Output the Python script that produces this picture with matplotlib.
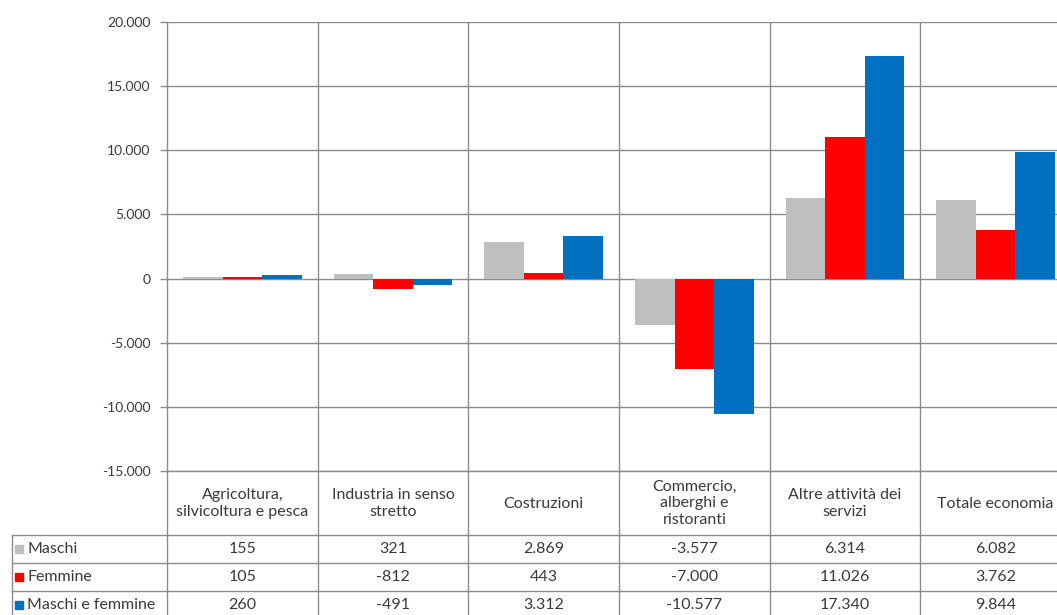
import matplotlib
matplotlib.use('Agg')
import matplotlib.pyplot as plt
import matplotlib.transforms as mtransforms
from matplotlib.ticker import FuncFormatter
import numpy as np

categories = ['Agricoltura,\nsilvicoltura e pesca', 'Industria in senso\nstretto', 'Costruzioni',
              'Commercio,\nalberghi e\nristoranti', 'Altre attività dei\nservizi', 'Totale economia']
series_names = ['Maschi', 'Femmine', 'Maschi e femmine']
maschi = [155, 321, 2869, -3577, 6314, 6082]
femmine = [105, -812, 443, -7000, 11026, 3762]
totale = [260, -491, 3312, -10577, 17340, 9844]
colors = ['#BFBFBF', '#FF0000', '#0070C0']
y_ticks = [-15000, -10000, -5000, 0, 5000, 10000, 15000, 20000]

TEXT = '#3a3a3a'
LINE = '#8c8c8c'
plt.rcParams['font.family'] = ['Lato', 'DejaVu Sans']


def it_num(v):
    # Italian thousands separator
    return '{:,}'.format(int(v)).replace(',', '.')


W, H = 1057, 615
fig = plt.figure(figsize=(W / 100, H / 100), dpi=100)
ax_left, ax_right, ax_top, ax_bottom = 167, 1071, 21.7, 471.3
ax = fig.add_axes([ax_left / W, 1 - ax_bottom / H, (ax_right - ax_left) / W, (ax_bottom - ax_top) / H])


def fy(px):
    # pixel row -> axes fraction
    return (ax_bottom - px) / (ax_bottom - ax_top)


x = np.arange(len(categories))
bw = 0.263
for i, (name, vals) in enumerate(zip(series_names, [maschi, femmine, totale])):
    ax.bar(x + (i - 1) * bw, vals, width=bw, color=colors[i], zorder=3)

ax.set_xlim(-0.5, len(categories) - 0.5)
ax.set_ylim(-15000, 20000)
ax.set_yticks(y_ticks)
ax.yaxis.set_major_formatter(FuncFormatter(lambda v, p: it_num(v)))
ax.set_xticks([])
ax.tick_params(axis='y', length=5, width=1, color=LINE, pad=7, labelsize=10, labelcolor=TEXT)
ax.grid(axis='y', color=LINE, linewidth=1, zorder=1)
for s in ['top', 'right']:
    ax.spines[s].set_visible(False)
for s in ['left', 'bottom']:
    ax.spines[s].set_color(LINE)
    ax.spines[s].set_linewidth(1)

trans = mtransforms.blended_transform_factory(ax.transData, ax.transAxes)

row_tops = [535, 563, 591]
fig_bottom = fy(H + 5)
leg_left = -0.5 + (12 - ax_left) / 150.7

# vertical category lines through the plot and the table
for b in np.arange(0.5, len(categories), 1):
    ax.plot([b, b], [1, fig_bottom], color=LINE, lw=1, transform=trans, clip_on=False, zorder=2)
ax.plot([-0.5, -0.5], [0, fig_bottom], color=LINE, lw=1, transform=trans, clip_on=False, zorder=2)
ax.plot([leg_left, leg_left], [fy(row_tops[0]), fig_bottom], color=LINE, lw=1, transform=trans, clip_on=False)
for r in row_tops:
    ax.plot([leg_left, len(categories) + 0.5], [fy(r), fy(r)], color=LINE, lw=1, transform=trans, clip_on=False)

# category labels
for i, c in enumerate(categories):
    ax.text(i, fy(503.5), c, ha='center', va='center', fontsize=11.5, color=TEXT,
            linespacing=1.2, transform=trans)

# data table
for j, (name, vals) in enumerate(zip(series_names, [maschi, femmine, totale])):
    yc = fy(row_tops[j] + 14)
    ax.plot([leg_left + 0.045], [yc], marker='s', ms=5.5, color=colors[j], transform=trans, clip_on=False)
    ax.text(leg_left + 0.1, yc, name, ha='left', va='center', fontsize=11.5, color=TEXT, transform=trans)
    for i, v in enumerate(vals):
        ax.text(i, yc, it_num(v), ha='center', va='center', fontsize=11.5, color=TEXT, transform=trans)

fig.savefig('out.png', dpi=100)
